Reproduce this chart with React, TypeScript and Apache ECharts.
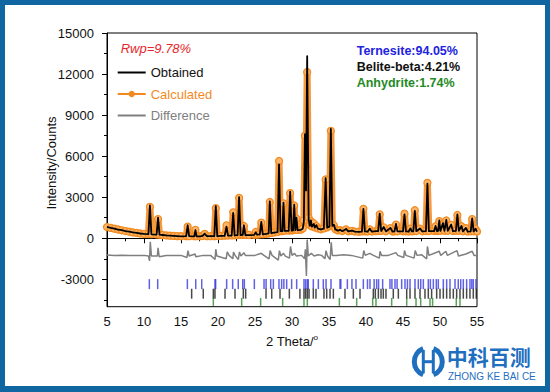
import React, { useEffect, useRef } from "react";
import * as echarts from "echarts";

// Observed (measured) pattern: [2theta, intensity]
const obsData: [number, number][] = [
  [5, 830], [5.5, 760], [6, 700], [6.5, 640], [7, 590], [7.5, 530], [8, 480], [8.5, 430], [9, 390], [9.5, 350], [10, 320], [10.6, 300],
  [10.8, 2400], [11.0, 290], [11.7, 270], [11.9, 1500], [12.1, 260], [12.5, 240], [13, 210], [13.5, 190], [14, 170], [14.5, 155], [15, 145], [15.7, 150],
  [15.9, 950], [16.1, 150], [16.8, 140], [16.95, 600], [17.1, 140], [17.6, 140], [17.9, 170], [18.2, 330], [18.5, 160], [19.0, 150], [19.5, 150],
  [19.7, 2350], [19.9, 160], [20.4, 170], [20.9, 180], [21.15, 850], [21.35, 190], [21.85, 200], [22.05, 1850], [22.25, 210], [22.65, 230],
  [22.85, 3000], [23.05, 240], [23.35, 250], [23.5, 950], [23.7, 240], [24.2, 230], [24.9, 250], [25.1, 430], [25.3, 260], [25.65, 280],
  [25.85, 1200], [26.05, 290], [26.5, 320], [26.85, 350], [27.0, 2700], [27.2, 380], [27.6, 420], [28.05, 450], [28.25, 5400], [28.45, 520],
  [28.7, 520], [28.85, 2600], [29.0, 540], [29.55, 550], [29.75, 3400], [29.95, 560], [30.15, 580], [30.3, 2450], [30.45, 600], [30.6, 1500], [30.75, 600],
  [31.2, 620], [31.45, 700], [31.6, 1200], [31.75, 7600], [31.9, 3500], [32.05, 13300], [32.25, 1400], [32.4, 900], [32.55, 1300], [32.7, 850],
  [32.95, 1050], [33.1, 780], [33.3, 950], [33.5, 700], [33.9, 650], [34.3, 700], [34.55, 4400], [34.75, 780], [35.05, 850], [35.25, 8000],
  [35.45, 900], [35.65, 1000], [35.85, 650], [36.2, 560], [36.5, 620], [36.8, 520], [37.3, 680], [37.6, 500], [38.1, 560], [38.5, 480], [39.0, 470], [39.45, 490],
  [39.65, 2150], [39.85, 500], [40.2, 480], [40.5, 700], [40.8, 480], [41.3, 520], [41.65, 520], [41.85, 1800], [42.05, 530], [42.4, 820], [42.7, 500], [43.3, 760], [43.6, 480],
  [43.85, 500], [44.05, 1050], [44.25, 500], [45.0, 500], [45.2, 1750], [45.4, 500], [45.75, 480], [46.0, 720], [46.2, 500], [46.4, 510], [46.6, 2000], [46.8, 520],
  [47.3, 720], [47.6, 500], [48.1, 520], [48.3, 4000], [48.5, 520], [49.2, 520], [49.4, 900], [49.6, 520], [49.75, 540], [49.9, 1300], [50.05, 540], [50.4, 1100],
  [50.6, 540], [50.85, 1350], [51.05, 540], [51.5, 1000], [51.75, 520], [52.15, 540], [52.35, 1750], [52.55, 540], [52.9, 900], [53.1, 500], [53.5, 760], [53.75, 480],
  [54.15, 500], [54.35, 1450], [54.55, 500], [54.8, 700], [55, 480],
];

// Calculated (refined) pattern
const calcData: [number, number][] = [
  [5, 820], [5.5, 760], [6, 700], [6.5, 640], [7, 585], [7.5, 530], [8, 480], [8.5, 430], [9, 390], [9.5, 350], [10, 320], [10.6, 310],
  [10.8, 2300], [11.0, 300], [11.7, 280], [11.9, 1400], [12.1, 260], [12.5, 240], [13, 210], [13.5, 190], [14, 170], [14.5, 160], [15, 150], [15.7, 160],
  [15.9, 850], [16.1, 150], [16.8, 150], [16.95, 620], [17.1, 150], [17.6, 150], [17.9, 170], [18.2, 320], [18.5, 160], [19.0, 150], [19.5, 160],
  [19.7, 2200], [19.9, 170], [20.4, 170], [20.9, 190], [21.15, 950], [21.35, 200], [21.85, 210], [22.05, 1900], [22.25, 220], [22.65, 240],
  [22.85, 2950], [23.05, 250], [23.35, 260], [23.5, 900], [23.7, 250], [24.2, 240], [24.9, 260], [25.1, 460], [25.3, 270], [25.65, 290],
  [25.85, 1150], [26.05, 300], [26.5, 330], [26.85, 360], [27.0, 2650], [27.2, 390], [27.6, 430], [28.05, 460], [28.25, 5650], [28.45, 520],
  [28.7, 530], [28.85, 2550], [29.0, 550], [29.55, 560], [29.75, 3300], [29.95, 570], [30.15, 590], [30.3, 2400], [30.45, 610], [30.6, 1450], [30.75, 610],
  [31.2, 630], [31.45, 720], [31.6, 1300], [31.75, 7500], [31.9, 5200], [32.05, 12150], [32.25, 1500], [32.4, 950], [32.55, 1250], [32.7, 870],
  [32.95, 1100], [33.1, 800], [33.3, 900], [33.5, 720], [33.9, 660], [34.3, 720], [34.55, 4300], [34.75, 800], [35.05, 880], [35.25, 7850],
  [35.45, 920], [35.65, 950], [35.85, 660], [36.2, 570], [36.5, 600], [36.8, 530], [37.3, 650], [37.6, 510], [38.1, 540], [38.5, 490], [39.0, 480], [39.45, 500],
  [39.65, 2150], [39.85, 510], [40.2, 490], [40.5, 650], [40.8, 490], [41.3, 520], [41.65, 530], [41.85, 1750], [42.05, 540], [42.4, 800], [42.7, 510], [43.3, 740], [43.6, 490],
  [43.85, 510], [44.05, 1000], [44.25, 510], [45.0, 510], [45.2, 1800], [45.4, 510], [45.75, 490], [46.0, 700], [46.2, 510], [46.4, 520], [46.6, 2050], [46.8, 530],
  [47.3, 700], [47.6, 510], [48.1, 530], [48.3, 4050], [48.5, 530], [49.2, 530], [49.4, 880], [49.6, 530], [49.75, 550], [49.9, 1250], [50.05, 550], [50.4, 1050],
  [50.6, 550], [50.85, 1300], [51.05, 550], [51.5, 980], [51.75, 530], [52.15, 550], [52.35, 1700], [52.55, 550], [52.9, 880], [53.1, 510], [53.5, 740], [53.75, 490],
  [54.15, 510], [54.35, 1400], [54.55, 510], [54.8, 680], [55, 490],
];

// Difference curve (offset below zero)
const diffData: [number, number][] = [
  [5, -1230], [6, -1250], [7, -1240], [8, -1260], [9, -1250], [10, -1250], [10.6, -1300], [10.75, -1650], [10.85, -250], [11.0, -1300],
  [11.8, -1300], [11.9, -700], [12.05, -1350], [13, -1260], [14, -1250], [15, -1250], [15.8, -1400], [15.95, -900], [16.1, -1300],
  [16.9, -1150], [17.0, -1350], [18, -1250], [19, -1250], [19.6, -1550], [19.7, -800], [19.85, -1300], [21.1, -1500], [21.25, -1000],
  [21.5, -1250], [22.0, -1500], [22.1, -1000], [22.3, -1250], [22.75, -1550], [22.9, -1000], [23.1, -1300], [23.5, -1050], [23.7, -1250],
  [25, -1250], [25.85, -1100], [26.2, -1250], [26.9, -1500], [27.05, -900], [27.3, -1250], [28.15, -1600], [28.3, -900], [28.5, -1300],
  [28.85, -1100], [29.1, -1300], [29.65, -1450], [29.8, -600], [30.0, -1250], [30.35, -1100], [30.6, -1300], [31.3, -1250], [31.7, -1500],
  [31.8, -800], [31.95, -2750], [32.05, -100], [32.2, -1300], [32.6, -1100], [33.0, -1300], [33.5, -1200], [34.0, -1250], [34.45, -1500],
  [34.6, -900], [34.8, -1300], [35.15, -1550], [35.3, -300], [35.45, -1250], [36, -1250], [37, -1200], [38, -1250], [39.55, -1450],
  [39.7, -900], [39.9, -1250], [40.5, -1100], [41.0, -1250], [41.8, -1450], [41.9, -950], [42.1, -1250], [43, -1250], [44.05, -1050],
  [44.3, -1250], [45.1, -1400], [45.2, -900], [45.4, -1250], [46.5, -1450], [46.65, -900], [46.9, -1250], [47.5, -1200], [48.2, -1500],
  [48.3, -600], [48.5, -1250], [49.9, -950], [50.1, -1250], [50.8, -950], [51.0, -1250], [52.3, -900], [52.5, -1300], [53.5, -1150],
  [54.35, -950], [54.6, -1250], [55, -1250],
];

// Bragg reflection positions of each phase (2theta)
const ternesiteTicks = [
  10.72, 11.85, 15.86, 16.99, 17.8, 19.6, 19.68, 21.17, 21.98, 22.74, 23.34, 23.56, 24.91, 26.22, 26.5, 27.12, 27.48, 28.24, 28.6, 28.9,
  29.28, 29.95, 30.63, 31.62, 31.84, 32.07, 32.2, 32.88, 33.56, 34.23, 34.6, 35.27, 36.49, 36.6, 37.48, 38.1, 38.65, 39.64, 40.2, 40.54,
  41.1, 41.44, 41.7, 42.25, 43.24, 43.5, 43.92, 44.2, 44.82, 45.27, 45.6, 45.95, 46.62, 47.07, 47.4, 47.75, 48.42, 48.7, 49.1, 49.5,
  49.77, 50.45, 50.9, 51.35, 52.03, 52.47, 52.8, 53.15, 53.6, 54.05, 54.3, 54.5, 54.86,
];
const beliteTicks = [
  16.44, 18.01, 19.37, 19.59, 20.95, 22.3, 23.42, 23.74, 26.49, 27.26, 28.38, 29.64, 31.07, 31.62, 31.84, 32.07, 32.3, 32.88, 33.24,
  34.32, 34.69, 35.14, 35.59, 37.16, 38.29, 39.19, 40.99, 41.26, 41.67, 42.03, 42.34, 42.7, 43.69, 44.37, 45.5, 45.95, 46.62, 47.3,
  47.97, 48.42, 48.87, 49.55, 50.0, 50.45, 50.9, 51.35, 51.8, 52.25, 52.7, 53.15, 53.6, 54.05, 54.5, 54.9,
];
const anhydriteTicks = [19.37, 23.2, 25.76, 28.74, 31.62, 32.07, 36.4, 38.74, 40.9, 41.35, 43.47, 45.5, 46.76, 47.39, 48.65, 49.0, 52.2, 52.7];

// Tick row levels (intensity units)
const ternesiteRow = -3350;
const beliteRow = -4050;
const anhydriteRow = -4650;

const yTickValues = [-3000, 0, 3000, 6000, 9000, 12000, 15000];
const yMinorTickValues = [-4500, -1500, 1500, 4500, 7500, 10500, 13500];
const seriesNames = ["Obtained", "Calculated", "Difference"];
const rwpText = "Rwp=9.78%";
const phaseTexts = ["Ternesite:94.05%", "Belite-beta:4.21%", "Anhydrite:1.74%"];

const FONT = "'Liberation Sans', Arial, sans-serif";
const ORANGE = "#f28a1f";
const LOGO_BLUE = "#1f6fbf";

export default function App() {
  const ref = useRef<HTMLDivElement>(null);
  useEffect(() => {
    const chart = echarts.init(ref.current!, null, { renderer: "svg" });
    chart.setOption({
      animation: false,
      textStyle: { fontFamily: FONT },
      grid: { left: 102, right: 68, top: 28, bottom: 79.3, show: true, borderColor: "#000", borderWidth: 1 },
      xAxis: {
        type: "value",
        min: 5,
        max: 55,
        interval: 5,
        axisLine: { show: true, lineStyle: { color: "#000", width: 1 } },
        axisTick: { show: true, length: 5, lineStyle: { color: "#000" } },
        minorTick: { show: true, splitNumber: 2, length: 3, lineStyle: { color: "#000" } },
        axisLabel: { fontSize: 13, color: "#111", margin: 8, fontFamily: FONT },
        splitLine: { show: false },
        name: "2 Theta/{s|o}",
        nameLocation: "middle",
        nameGap: 27,
        nameTextStyle: {
          fontSize: 13,
          color: "#111",
          fontFamily: FONT,
          rich: { s: { fontSize: 8, padding: [0, 0, 8, 0], color: "#111", fontFamily: FONT } },
        },
      },
      yAxis: [
        {
          type: "value",
          min: -5000,
          max: 15000,
          axisLine: { show: true, lineStyle: { color: "#000", width: 1 } },
          axisTick: { show: true, length: 5, customValues: yTickValues, lineStyle: { color: "#000" } },
          axisLabel: {
            customValues: yTickValues,
            formatter: (v: number) => String(v),
            fontSize: 13,
            color: "#111",
            margin: 13,
            fontFamily: FONT,
          },
          splitLine: { show: false },
        },
        {
          type: "value",
          min: -5000,
          max: 15000,
          position: "left",
          offset: 0,
          axisLine: { show: false },
          axisTick: { show: true, length: 3, customValues: yMinorTickValues, lineStyle: { color: "#000" } },
          axisLabel: { show: false },
          splitLine: { show: false },
        },
      ],
      legend: {
        orient: "vertical",
        left: 111.7,
        top: 61,
        padding: 0,
        itemWidth: 28,
        itemHeight: 8,
        itemGap: 8.5,
        textStyle: { fontSize: 13, fontFamily: FONT },
        data: [
          { name: seriesNames[0], textStyle: { color: "#111" }, itemStyle: { opacity: 0 } },
          { name: seriesNames[1], textStyle: { color: ORANGE }, itemStyle: { color: ORANGE, borderWidth: 0 } },
          { name: seriesNames[2], textStyle: { color: "#808080" }, itemStyle: { opacity: 0 } },
        ],
      },
      series: [
        {
          type: "line",
          name: "calcBand",
          data: calcData,
          symbol: "none",
          silent: true,
          z: 1,
          lineStyle: { color: "#f6983c", width: 7, join: "round", cap: "round" },
        },
        {
          type: "line",
          name: seriesNames[1],
          data: calcData,
          symbol: "circle",
          symbolSize: 7,
          showAllSymbol: true,
          z: 2,
          itemStyle: { color: "#fbb56a", borderColor: ORANGE, borderWidth: 1.2 },
          lineStyle: { color: ORANGE, width: 1.5 },
        },
        {
          type: "line",
          name: seriesNames[0],
          data: obsData,
          symbol: "none",
          z: 3,
          itemStyle: { color: "#000" },
          lineStyle: { color: "#000", width: 1.8, join: "round" },
        },
        {
          type: "line",
          name: seriesNames[2],
          data: diffData,
          symbol: "none",
          z: 3,
          itemStyle: { color: "#7f7f7f" },
          lineStyle: { color: "#7f7f7f", width: 1.5 },
        },
        {
          type: "scatter",
          name: "Ternesite",
          data: ternesiteTicks.map((t) => [t, ternesiteRow]),
          symbol: "rect",
          symbolSize: [1.5, 10],
          itemStyle: { color: "#3a3ae0" },
          silent: true,
        },
        {
          type: "scatter",
          name: "Belite-beta",
          data: beliteTicks.map((t) => [t, beliteRow]),
          symbol: "rect",
          symbolSize: [1.5, 10],
          itemStyle: { color: "#1a1a1a" },
          silent: true,
        },
        {
          type: "scatter",
          name: "Anhydrite",
          data: anhydriteTicks.map((t) => [t, anhydriteRow]),
          symbol: "rect",
          symbolSize: [1.5, 8],
          itemStyle: { color: "#2e8b2e" },
          silent: true,
        },
      ],
      graphic: [
        {
          type: "text",
          x: 46,
          y: 158,
          rotation: Math.PI / 2,
          style: { text: "Intensity/Counts", fontSize: 13, fontFamily: FONT, fill: "#111", align: "center", verticalAlign: "middle" },
        },
        {
          type: "text",
          x: 115.7,
          y: 43.3,
          style: { text: rwpText, fontSize: 13, fontStyle: "italic", fontFamily: FONT, fill: "#e8262a", align: "left", verticalAlign: "middle" },
        },
        {
          type: "text",
          x: 351.7,
          y: 45.7,
          style: { text: phaseTexts[0], fontSize: 12.5, fontWeight: "bold", fontFamily: FONT, fill: "#2323e0", align: "left", verticalAlign: "middle" },
        },
        {
          type: "text",
          x: 351.7,
          y: 61.7,
          style: { text: phaseTexts[1], fontSize: 12.5, fontWeight: "bold", fontFamily: FONT, fill: "#111", align: "left", verticalAlign: "middle" },
        },
        {
          type: "text",
          x: 351.7,
          y: 77.7,
          style: { text: phaseTexts[2], fontSize: 12.5, fontWeight: "bold", fontFamily: FONT, fill: "#1f8a1f", align: "left", verticalAlign: "middle" },
        },
        // logo
        {
          type: "arc",
          shape: { cx: 423.3, cy: 356.7, r: 14, startAngle: Math.PI * 0.62, endAngle: Math.PI * 1.38 },
          style: { stroke: LOGO_BLUE, lineWidth: 5, fill: null },
        },
        {
          type: "arc",
          shape: { cx: 423.3, cy: 356.7, r: 14, startAngle: -Math.PI * 0.38, endAngle: Math.PI * 0.38 },
          style: { stroke: LOGO_BLUE, lineWidth: 5, fill: null },
        },
        {
          type: "line",
          shape: { x1: 418.3, y1: 345, x2: 418.3, y2: 368.4 },
          style: { stroke: LOGO_BLUE, lineWidth: 3 },
        },
        {
          type: "line",
          shape: { x1: 428.3, y1: 345, x2: 428.3, y2: 368.4 },
          style: { stroke: LOGO_BLUE, lineWidth: 3 },
        },
        {
          type: "line",
          shape: { x1: 418.3, y1: 356.7, x2: 428.3, y2: 356.7 },
          style: { stroke: LOGO_BLUE, lineWidth: 3 },
        },
        {
          type: "text",
          x: 441.7,
          y: 351,
          style: {
            text: "中科百测",
            fontSize: 21,
            lineHeight: 21,
            fontWeight: "bold",
            fontFamily: "'Noto Sans CJK SC'",
            fill: LOGO_BLUE,
            align: "left",
            verticalAlign: "middle",
          },
        },
        {
          type: "text",
          x: 443,
          y: 371.5,
          style: {
            text: "ZHONG KE BAI CE",
            fontSize: 10,
            lineHeight: 10,
            fontFamily: FONT,
            fill: LOGO_BLUE,
            align: "left",
            verticalAlign: "middle",
          },
        },
      ],
    });
    return () => chart.dispose();
  }, []);
  return (
    <div style={{ position: "absolute", left: 0, top: 0, width: 550, height: 392, background: "#0f66a0" }}>
      <div ref={ref} style={{ position: "absolute", left: 5, top: 5, width: 540, height: 381, background: "#fff" }} />
    </div>
  );
}
